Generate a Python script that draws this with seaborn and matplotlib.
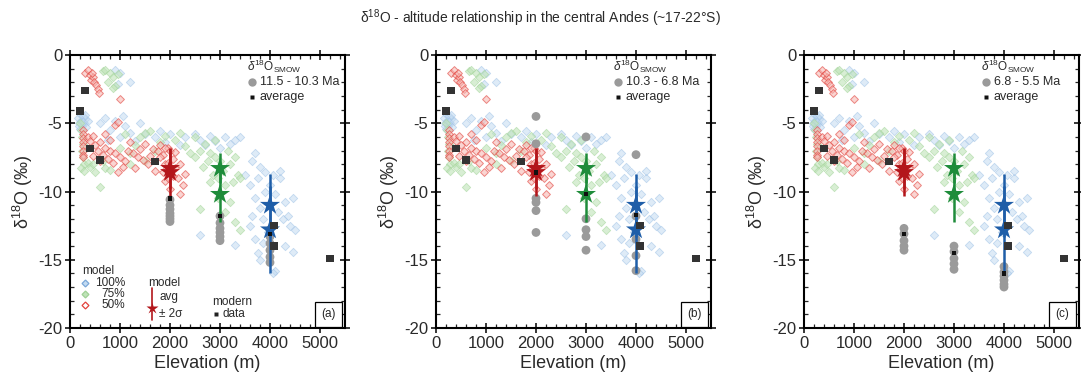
import numpy as np
import pandas as pd
import matplotlib
matplotlib.use("Agg")
import matplotlib.pyplot as plt
import seaborn as sns
from matplotlib.ticker import MultipleLocator

# ---------------- data ----------------
# model 50 % (red)
red_x = [300, 350, 400, 420, 460, 480, 520, 550, 580, 440, 1000,
         250, 250, 250, 250, 250, 250, 250, 250,
         350, 400, 450, 500, 550, 600, 650, 700, 750, 800, 850, 900, 950, 1000,
         900, 950, 700, 800, 1050, 1100, 450, 600,
         1200, 1250, 1300, 1400, 1450, 1500, 1550, 1600, 1650, 1700, 1750, 1800,
         1850, 1900, 1950, 1350, 1150,
         1800, 1850, 1900, 1950, 2000, 2050, 2100, 2150, 2200, 2250, 2200, 2100,
         2000, 1950, 2050, 2300, 1900]
red_y = [-1.3, -1.1, -1.5, -1.8, -1.6, -2.0, -2.2, -2.5, -2.8, -1.3, -3.2,
         -5.5, -5.8, -6.1, -6.4, -6.7, -7.0, -7.3, -7.5,
         -6.0, -6.3, -5.9, -6.6, -7.0, -6.4, -7.3, -6.8, -7.6, -7.0, -7.9, -7.2, -8.6, -7.5,
         -5.1, -4.9, -5.8, -6.2, -8.2, -7.8, -7.4, -7.8,
         -6.4, -7.2, -8.3, -6.9, -7.7, -6.5, -8.0, -7.4, -6.9, -8.5, -7.0, -6.6,
         -7.3, -8.0, -6.8, -7.5, -7.0,
         -7.5, -8.6, -9.2, -7.9, -7.0, -7.6, -8.3, -9.0, -8.0, -9.5, -10.2, -7.1,
         -9.8, -9.0, -8.9, -8.7, -6.8]

# model 75 % (green)
green_x = [650, 700, 800, 850, 900, 750, 950, 850,
           200, 220, 240, 260, 230, 250, 270, 210, 280,
           350, 400, 500, 600, 700, 450, 800, 650,
           1000, 1100, 1200, 1300, 1400, 1500, 1600, 1700, 1800, 1900, 1500, 1200,
           2100, 2200, 2300, 2400, 2500, 2500, 2600, 2650, 2700, 2750, 2800, 2850,
           2900, 2950, 3000, 3050, 3100, 3150, 3200, 3250, 3300, 3350, 3400, 2800,
           2900, 3100, 3200, 3300, 2600, 3400, 2950]
green_y = [-1.2, -1.1, -1.3, -1.6, -2.3, -2.0, -1.4, -2.4,
           -5.0, -5.5, -6.0, -6.5, -7.0, -7.5, -8.0, -8.3, -8.5,
           -7.9, -8.2, -8.6, -9.7, -8.3, -8.0, -8.4, -7.8,
           -6.8, -5.8, -7.2, -6.6, -6.0, -7.8, -5.6, -7.0, -6.4, -5.9, -5.7, -8.0,
           -6.2, -5.7, -6.7, -7.2, -6.0, -7.5, -7.0, -8.2, -6.5, -7.8, -7.2, -8.8,
           -7.5, -9.0, -7.8, -8.5, -9.5, -7.0, -8.0, -9.3, -7.5, -8.8, -9.0, -9.3,
           -6.2, -11.5, -10.8, -12.2, -11.3, -12.8, -10.5]

# model 100 % (blue)
blue_x = [150, 180, 200, 220, 240, 260, 280, 300, 320, 200, 250, 350, 170, 290,
          900, 1000, 1200, 950,
          600, 700, 800, 900, 1000, 1100, 1200, 1300, 1400, 1500, 750, 1050,
          1700, 1800, 1900, 2000, 2200, 2500, 2600, 2700, 2800, 2900, 3000, 3100,
          3200, 3300, 3400, 2300, 2600, 3300,
          3500, 3600, 3650, 3700, 3700, 3750, 3800, 3800, 3850, 3900, 3650, 3700,
          3750, 3800, 3900, 3950, 4000, 4050, 4100, 4150, 4200, 4250, 4300, 4350,
          4400, 4450, 4500, 4300, 4100, 4200, 3600, 3850, 4450, 4050]
blue_y = [-4.6, -5.0, -4.3, -4.8, -5.2, -4.5, -5.0, -4.7, -5.3, -5.4, -4.9, -4.8, -5.2, -4.4,
          -1.1, -1.3, -2.0, -2.1,
          -5.0, -4.6, -5.5, -4.8, -6.0, -5.2, -5.7, -6.3, -5.0, -5.8, -6.2, -4.5,
          -6.0, -5.6, -6.4, -5.8, -6.6, -5.8, -6.2, -6.6, -5.9, -6.3, -6.8, -6.0,
          -6.5, -6.2, -6.0, -6.0, -13.2, -13.9,
          -8.8, -9.5, -7.8, -7.2, -10.5, -9.0, -8.2, -11.2, -12.0, -8.6, -11.8, -13.5,
          -14.5, -15.0, -10.0, -13.0, -9.5, -8.8, -10.2, -11.5, -9.0, -12.0, -10.8, -11.8,
          -12.5, -10.5, -12.8, -14.0, -15.8, -8.5, -12.5, -13.8, -14.4, -16.0]

# model averages (stars) with +/- 2 sigma
avg_x = [2000, 2000, 3000, 3000, 4000, 4000]
avg_y = [-8.3, -8.6, -8.3, -10.2, -11.0, -12.8]
avg_lo = [-9.8, -10.3, -9.4, -12.2, -13.3, -16.0]
avg_hi = [-6.8, -6.9, -7.2, -8.2, -8.7, -9.6]
avg_group = ["50%", "50%", "75%", "75%", "100%", "100%"]

# modern data
mod_x = [200, 300, 400, 600, 1700, 4080, 4080, 5200]
mod_y = [-4.1, -2.6, -6.85, -7.7, -7.8, -12.5, -14.0, -14.9]

# fossil samples per panel
panel_labels = ["(a)", "(b)", "(c)"]
panel_ages = ["11.5 - 10.3 Ma", "10.3 - 6.8 Ma", "6.8 - 5.5 Ma"]
samp_x = [
    [2000] * 7 + [3000] * 6 + [4000] * 6,
    [2000] * 6 + [3000] * 5 + [4000] * 5,
    [2000] * 5 + [3000] * 5 + [4000] * 6,
]
samp_y = [
    [-10.6, -11.0, -11.3, -11.6, -11.8, -12.0, -12.2,
     -11.8, -12.3, -12.7, -13.0, -13.3, -13.6,
     -12.8, -13.3, -13.8, -14.3, -14.8, -15.2],
    [-4.5, -6.5, -10.5, -10.8, -11.4, -13.0,
     -6.0, -12.0, -12.8, -13.3, -14.3,
     -7.3, -11.8, -13.5, -14.7, -15.8],
    [-12.7, -13.1, -13.6, -14.0, -14.3,
     -14.0, -14.4, -14.9, -15.3, -15.7,
     -15.5, -15.9, -16.2, -16.5, -16.8, -17.0],
]
savg_x = [[2000, 3000, 4000]] * 3
savg_y = [[-10.5, -11.8, -13.1], [-8.6, -10.2, -11.7], [-13.1, -14.5, -16.0]]

# ---------------- style ----------------
sns.set_style("ticks")
plt.rcParams["font.family"] = ["Liberation Sans", "DejaVu Sans"]
plt.rcParams["mathtext.fontset"] = "custom"
plt.rcParams["mathtext.rm"] = "Liberation Sans"
plt.rcParams["mathtext.it"] = "Liberation Sans:italic"
plt.rcParams["axes.unicode_minus"] = False

col_red_face, col_red_edge = "#f7b9b5", "#e2423c"
col_grn_face, col_grn_edge = "#bfe3b8", "#a6d69c"
col_blu_face, col_blu_edge = "#c3dbf1", "#9dc1e6"
star_cols = {"50%": "#b3161b", "75%": "#1e8c3a", "100%": "#1f5ea8"}
txt_col = "#2a2a2a"

red_df = pd.DataFrame({"x": red_x, "y": red_y})
green_df = pd.DataFrame({"x": green_x, "y": green_y})
blue_df = pd.DataFrame({"x": blue_x, "y": blue_y})
avg_df = pd.DataFrame({"x": avg_x, "y": avg_y, "lo": avg_lo, "hi": avg_hi, "g": avg_group})
mod_df = pd.DataFrame({"x": mod_x, "y": mod_y})

fig = plt.figure(figsize=(10.81, 3.79), dpi=100)
lefts = [70 / 1081, 436 / 1081, 804 / 1081]
W, H = 275 / 1081, 273 / 379
B = 1 - 328 / 379

for i in range(3):
    ax = fig.add_axes([lefts[i], B, W, H])
    sns.scatterplot(data=blue_df, x="x", y="y", ax=ax, marker="D", s=18,
                    color=col_blu_face, edgecolor=col_blu_edge, linewidth=0.6,
                    alpha=0.55, zorder=2)
    sns.scatterplot(data=green_df, x="x", y="y", ax=ax, marker="D", s=18,
                    color=col_grn_face, edgecolor=col_grn_edge, linewidth=0.6,
                    alpha=0.6, zorder=2)
    sns.scatterplot(data=red_df, x="x", y="y", ax=ax, marker="D", s=16,
                    color=col_red_face, edgecolor=col_red_edge, linewidth=0.7,
                    alpha=0.6, zorder=3)
    # samples
    sdf = pd.DataFrame({"x": samp_x[i], "y": samp_y[i]})
    sns.scatterplot(data=sdf, x="x", y="y", ax=ax, marker="o", s=40,
                    color="#9a9a9a", edgecolor="none", zorder=4)
    # model averages with +/- 2 sigma
    for _, r in avg_df.iterrows():
        ax.vlines(r["x"], r["lo"], r["hi"], color=star_cols[r["g"]], lw=1.8, zorder=5)
    sns.scatterplot(data=avg_df, x="x", y="y", hue="g", palette=star_cols, ax=ax,
                    marker="*", s=230, edgecolor="none", legend=False, zorder=6)
    # sample averages
    adf = pd.DataFrame({"x": savg_x[i], "y": savg_y[i]})
    sns.scatterplot(data=adf, x="x", y="y", ax=ax, marker="s", s=10,
                    color="#111111", edgecolor="none", zorder=7)
    # modern data
    sns.scatterplot(data=mod_df, x="x", y="y", ax=ax, marker="s", s=28,
                    color="#333333", edgecolor="none", zorder=7)

    ax.set_xlim(0, 5500)
    ax.set_ylim(-20, 0)
    ax.xaxis.set_major_locator(MultipleLocator(1000))
    ax.xaxis.set_minor_locator(MultipleLocator(200))
    ax.yaxis.set_major_locator(MultipleLocator(5))
    ax.yaxis.set_minor_locator(MultipleLocator(1))
    ax.tick_params(which="major", direction="inout", length=7, width=1.3,
                   top=True, right=True, labelsize=12, pad=2, labelcolor=txt_col)
    ax.tick_params(which="minor", direction="in", length=3, width=0.9,
                   top=True, right=True)
    for sp in ax.spines.values():
        sp.set_linewidth(1.5)
        sp.set_color("black")
    ax.set_xlabel("Elevation (m)", fontsize=13, labelpad=3, color=txt_col)
    ax.set_ylabel("δ$^{18}$O (‰)", fontsize=13, labelpad=2, color=txt_col)

    # top-right legend
    ax.text(0.645, 0.99, r"$\delta^{18}$O$_{\mathrm{SMOW}}$", transform=ax.transAxes,
            fontsize=8.5, va="top", ha="left", color=txt_col)
    ax.plot([0.66], [0.9], transform=ax.transAxes, marker="o", ms=6,
            color="#9a9a9a", mec="none", ls="none")
    ax.text(0.69, 0.9, panel_ages[i], transform=ax.transAxes, fontsize=9,
            va="center", ha="left", color=txt_col)
    ax.plot([0.66], [0.845], transform=ax.transAxes, marker="s", ms=3,
            color="#111111", mec="none", ls="none")
    ax.text(0.69, 0.845, "average", transform=ax.transAxes, fontsize=9,
            va="center", ha="left", color=txt_col)

    # panel label
    ax.text(0.94, 0.05, panel_labels[i], transform=ax.transAxes, fontsize=8.5,
            ha="center", va="center",
            bbox=dict(boxstyle="square,pad=0.55", fc="white", ec="black", lw=0.9))

    if i == 0:
        fs = 8.5
        ax.text(0.044, 0.21, "model", transform=ax.transAxes, fontsize=fs,
                va="center", ha="left", color=txt_col)
        for yy, lab, fc, ec in [(0.165, "100%", col_blu_face, "#7aa7d8"),
                                (0.125, "75%", col_grn_face, "#9fd095"),
                                (0.085, "50%", "white", col_red_edge)]:
            ax.plot([0.055], [yy], transform=ax.transAxes, marker="D", ms=3.5,
                    mfc=fc, mec=ec, mew=0.9, ls="none")
            ax.text(0.2, yy, lab, transform=ax.transAxes, fontsize=fs,
                    va="center", ha="right", color=txt_col)
        ax.text(0.284, 0.165, "model", transform=ax.transAxes, fontsize=fs,
                va="center", ha="left", color=txt_col)
        ax.plot([0.298, 0.298], [0.03, 0.145], transform=ax.transAxes,
                color=star_cols["50%"], lw=1.2)
        ax.plot([0.298], [0.075], transform=ax.transAxes, marker="*", ms=9,
                color=star_cols["50%"], mec="none", ls="none")
        ax.text(0.325, 0.112, "avg", transform=ax.transAxes, fontsize=fs,
                va="center", ha="left", color=txt_col)
        ax.text(0.325, 0.05, "± 2σ", transform=ax.transAxes, fontsize=fs,
                va="center", ha="left", color=txt_col)
        ax.text(0.516, 0.097, "modern", transform=ax.transAxes, fontsize=fs,
                va="center", ha="left", color=txt_col)
        ax.plot([0.53], [0.05], transform=ax.transAxes, marker="s", ms=3.5,
                color="#222222", mec="none", ls="none")
        ax.text(0.555, 0.05, "data", transform=ax.transAxes, fontsize=fs,
                va="center", ha="left", color=txt_col)

fig.text(0.5, 0.953, "δ$^{18}$O - altitude relationship in the central Andes (~17-22°S)",
         ha="center", va="center", fontsize=10, color=txt_col)

fig.savefig("out.png", dpi=100)
